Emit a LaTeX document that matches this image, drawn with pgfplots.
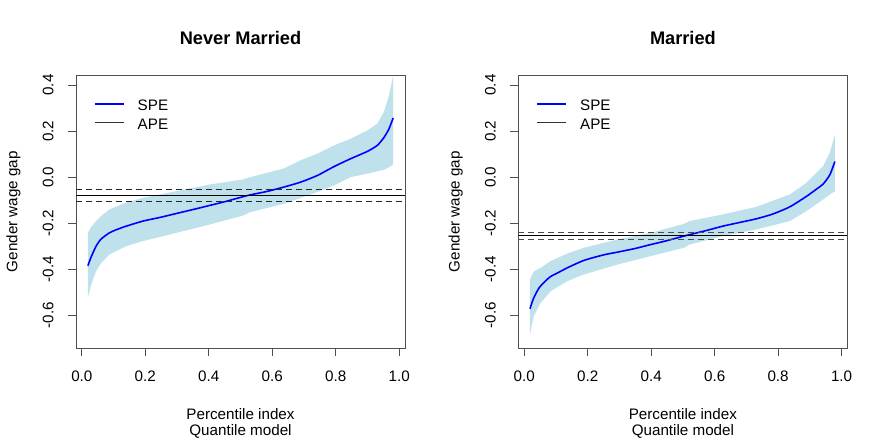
\documentclass[border=0pt]{standalone}
\usepackage{fontspec}
\setmainfont{Liberation Sans}
\usepackage{pgfplots}
\pgfplotsset{compat=1.18}
\definecolor{band}{RGB}{190,225,236}
\definecolor{boxgray}{RGB}{80,80,80}
\newcommand{\basefont}{\fontsize{15.2}{17}\selectfont}
\pgfplotsset{rstyle/.style={
  scale only axis, width=329pt, height=273.3pt,
  xmin=-0.0184, xmax=1.0184, ymin=-0.744, ymax=0.444,
  axis line style={boxgray, line width=0.9pt},
  xtick={0,0.2,0.4,0.6,0.8,1}, xticklabels={0.0,0.2,0.4,0.6,0.8,1.0},
  ytick={-0.6,-0.4,-0.2,0,0.2,0.4}, yticklabels={-0.6,-0.4,-0.2,0.0,0.2,0.4},
  xtick pos=bottom, ytick pos=left, tick align=outside, major tick length=8pt,
  every tick/.style={boxgray, line width=0.9pt},
  tick label style={font=\basefont, inner sep=0pt, text depth=0pt},
  xticklabel style={anchor=base},
  xticklabel shift=25.4pt,
  yticklabel style={rotate=90, anchor=base},
  yticklabel shift=14.7pt,
  clip=true,
}}
\begin{document}
\begin{tikzpicture}[x=1pt,y=1pt]
\useasboundingbox (0,0) rectangle (886,443);
% ---------------- Left panel
\begin{axis}[rstyle, at={(76pt,94.7pt)}, anchor=south west]
\addplot[fill=band, draw=none] coordinates {
(0.019,-0.242) (0.030,-0.215) (0.045,-0.191) (0.060,-0.170) (0.087,-0.140)
(0.140,-0.111) (0.193,-0.090) (0.298,-0.061) (0.403,-0.032) (0.508,-0.010)
(0.531,0.000) (0.637,0.038) (0.689,0.073) (0.742,0.102) (0.795,0.138)
(0.847,0.167) (0.900,0.203) (0.931,0.232) (0.952,0.283) (0.968,0.355) (0.981,0.442)
(0.981,0.055) (0.968,0.043) (0.952,0.032) (0.931,0.025) (0.900,0.015)
(0.847,0.000) (0.795,-0.036) (0.742,-0.065) (0.637,-0.116) (0.531,-0.152)
(0.508,-0.167) (0.403,-0.206) (0.298,-0.242) (0.193,-0.278) (0.140,-0.300)
(0.087,-0.336) (0.060,-0.375) (0.045,-0.409) (0.030,-0.465) (0.019,-0.524)
} -- cycle;
\addplot[blue, line width=1.6pt, smooth, tension=0.4] coordinates {
(0.019,-0.385) (0.030,-0.345) (0.045,-0.300) (0.060,-0.270) (0.087,-0.242)
(0.110,-0.228) (0.140,-0.213) (0.193,-0.191) (0.250,-0.174) (0.298,-0.158)
(0.350,-0.141) (0.403,-0.123) (0.450,-0.107) (0.508,-0.085) (0.531,-0.077)
(0.584,-0.062) (0.637,-0.043) (0.689,-0.022) (0.742,0.007) (0.795,0.046)
(0.847,0.080) (0.900,0.112) (0.931,0.138) (0.952,0.172) (0.968,0.210) (0.981,0.257)
};
\addplot[black, line width=1pt] coordinates {(-0.0184,-0.081) (1.0184,-0.081)};
\addplot[black!85, line width=0.9pt, dash pattern=on 6pt off 4pt] coordinates {(-0.0184,-0.055) (1.0184,-0.055)};
\addplot[black!85, line width=0.9pt, dash pattern=on 6pt off 4pt] coordinates {(-0.0184,-0.107) (1.0184,-0.107)};
\draw[blue, line width=1.6pt] (axis description cs:0.0579,0.894) -- (axis description cs:0.146,0.894);
\draw[black!80, line width=1pt] (axis description cs:0.0579,0.825) -- (axis description cs:0.146,0.825);
\node[anchor=base west, inner sep=0pt, font=\basefont] at (axis description cs:0.187,0.8695) {SPE};
\node[anchor=base west, inner sep=0pt, font=\basefont] at (axis description cs:0.187,0.801) {APE};
\end{axis}
% ---------------- Right panel
\begin{axis}[rstyle, at={(518.4pt,94.7pt)}, anchor=south west]
\addplot[fill=band, draw=none] coordinates {
(0.018,-0.445) (0.030,-0.410) (0.052,-0.394) (0.083,-0.365) (0.136,-0.332)
(0.188,-0.307) (0.294,-0.271) (0.399,-0.242) (0.504,-0.203) (0.521,-0.191)
(0.626,-0.162) (0.732,-0.129) (0.837,-0.075) (0.889,-0.025) (0.942,0.048)
(0.963,0.106) (0.979,0.186)
(0.979,-0.061) (0.963,-0.075) (0.942,-0.097) (0.889,-0.148) (0.837,-0.191)
(0.732,-0.227) (0.626,-0.256) (0.521,-0.293) (0.504,-0.307) (0.399,-0.343)
(0.294,-0.380) (0.188,-0.423) (0.136,-0.452) (0.083,-0.496) (0.052,-0.546)
(0.030,-0.604) (0.018,-0.684)
} -- cycle;
\addplot[blue, line width=1.6pt, smooth, tension=0.4] coordinates {
(0.018,-0.572) (0.030,-0.525) (0.047,-0.481) (0.068,-0.450) (0.083,-0.432)
(0.100,-0.420) (0.136,-0.394) (0.188,-0.362) (0.250,-0.338) (0.294,-0.326)
(0.350,-0.310) (0.399,-0.293) (0.450,-0.276) (0.504,-0.256) (0.574,-0.232)
(0.626,-0.213) (0.679,-0.197) (0.732,-0.181) (0.784,-0.160) (0.837,-0.129)
(0.889,-0.084) (0.921,-0.052) (0.942,-0.030) (0.963,0.010) (0.979,0.068)
};
\addplot[black, line width=1pt] coordinates {(-0.0184,-0.2535) (1.0184,-0.2535)};
\addplot[black!70, line width=0.9pt, dash pattern=on 6pt off 4pt] coordinates {(-0.0184,-0.239) (1.0184,-0.239)};
\addplot[black!70, line width=0.9pt, dash pattern=on 6pt off 4pt] coordinates {(-0.0184,-0.2696) (1.0184,-0.2696)};
\draw[blue, line width=1.6pt] (axis description cs:0.0579,0.894) -- (axis description cs:0.146,0.894);
\draw[black!80, line width=1pt] (axis description cs:0.0579,0.825) -- (axis description cs:0.146,0.825);
\node[anchor=base west, inner sep=0pt, font=\basefont] at (axis description cs:0.187,0.8695) {SPE};
\node[anchor=base west, inner sep=0pt, font=\basefont] at (axis description cs:0.187,0.801) {APE};
\end{axis}
% ---------------- Titles and labels
\node[anchor=base, inner sep=0pt, font=\bfseries\fontsize{18.2}{20}\selectfont] at (240.5,398.7) {Never Married};
\node[anchor=base, inner sep=0pt, font=\bfseries\fontsize{18.2}{20}\selectfont] at (682.9,398.7) {Married};
\node[anchor=base, inner sep=0pt, rotate=90, font=\basefont] at (17.3,231.3) {Gender wage gap};
\node[anchor=base, inner sep=0pt, rotate=90, font=\basefont] at (459.7,231.3) {Gender wage gap};
\node[anchor=base, inner sep=0pt, font=\basefont] at (240.5,23.3) {Percentile index};
\node[anchor=base, inner sep=0pt, font=\basefont] at (240.5,7) {Quantile model};
\node[anchor=base, inner sep=0pt, font=\basefont] at (682.9,23.3) {Percentile index};
\node[anchor=base, inner sep=0pt, font=\basefont] at (682.9,7) {Quantile model};
\end{tikzpicture}
\end{document}
